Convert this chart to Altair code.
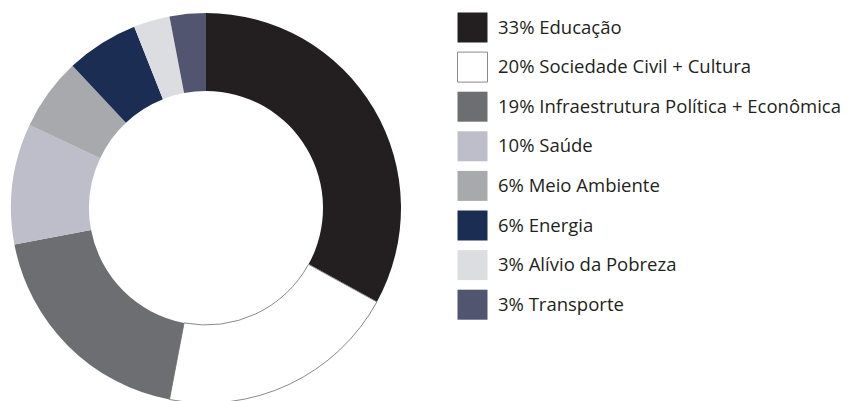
import altair as alt
import pandas as pd

names = ["Educação", "Sociedade Civil + Cultura", "Infraestrutura Política + Econômica",
         "Saúde", "Meio Ambiente", "Energia", "Alívio da Pobreza", "Transporte"]
values = [33, 20, 19, 10, 6, 6, 3, 3]
colors = ["#231f20", "#ffffff", "#6d6e71", "#bdbec9", "#a7a9ac", "#1b2d52", "#dcdde0", "#515570"]
strokes = ["transparent", "#8a8a8a", "transparent", "transparent", "transparent",
           "transparent", "transparent", "transparent"]

labels = [f"{v}% {n}" for v, n in zip(values, names)]
df = pd.DataFrame({"label": labels, "value": values, "idx": list(range(len(values)))})

chart = alt.Chart(df).mark_arc(innerRadius=117, outerRadius=195, strokeWidth=1).encode(
    theta=alt.Theta("value:Q", stack=True),
    order=alt.Order("idx:Q", sort="ascending"),
    x=alt.value(198),
    y=alt.value(200),
    color=alt.Color("label:N", scale=alt.Scale(domain=labels, range=colors),
                    legend=alt.Legend(title=None, orient="none", legendX=449, legendY=4,
                                      symbolType="square", symbolSize=900,
                                      symbolStrokeWidth=1, symbolOpacity=1,
                                      labelFont="Open Sans", labelFontSize=18.5,
                                      labelColor="#231f20", labelOffset=10,
                                      rowPadding=4.6, padding=0, labelLimit=500)),
    stroke=alt.Stroke("label:N", scale=alt.Scale(domain=labels, range=strokes), legend=None),
).properties(width=396, height=385, padding=0).configure_view(stroke=None)

chart.save("out.html", embed_options={"renderer": "svg", "actions": False})
